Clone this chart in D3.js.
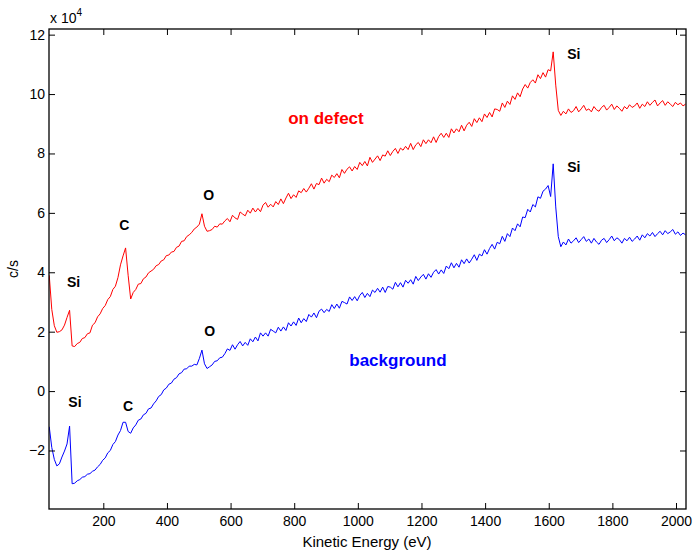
<!DOCTYPE html>
<html>
<head>
<meta charset="utf-8">
<script src="https://cdn.jsdelivr.net/npm/d3@7"></script>
<style>
  body { margin: 0; background: #fff; }
  svg { font-family: "Liberation Sans", Arial, sans-serif; }
</style>
</head>
<body>
<div id="chart"></div>
<script>

// spectrometer sampling grid (eV), 8 eV steps from 30 to 2030
var energy = d3.range(30, 2031, 8);

// counts, in units of 10^4 c/s
var onDefect = [
  3.9, 2.75, 2.2, 1.98, 2.0, 2.06, 2.22, 2.48, 2.72, 1.52,
  1.5, 1.6, 1.64, 1.77, 1.8, 1.93, 1.96, 2.22, 2.3, 2.5,
  2.6, 2.78, 2.88, 3.08, 3.18, 3.42, 3.53, 3.82, 4.25, 4.55,
  4.82, 3.9, 3.1, 3.32, 3.42, 3.6, 3.62, 3.78, 3.84, 3.98,
  4.04, 4.1, 4.22, 4.26, 4.38, 4.42, 4.56, 4.58, 4.68, 4.7,
  4.84, 4.88, 5.04, 5.06, 5.2, 5.26, 5.34, 5.46, 5.52, 5.62,
  5.97, 5.55, 5.38, 5.4, 5.44, 5.55, 5.52, 5.63, 5.62, 5.73,
  5.81, 5.70, 5.92, 5.83, 5.78, 6.03, 5.96, 5.90, 6.09, 5.99,
  6.16, 6.03, 6.15, 6.04, 6.26, 6.35, 6.19, 6.29, 6.20, 6.38,
  6.28, 6.47, 6.31, 6.50, 6.66, 6.48, 6.61, 6.52, 6.74, 6.68,
  6.82, 6.70, 6.83, 6.98, 6.80, 6.99, 6.95, 7.17, 7.00, 7.13,
  7.05, 7.27, 7.19, 7.32, 7.18, 7.46, 7.33, 7.47, 7.55, 7.41,
  7.56, 7.46, 7.70, 7.59, 7.73, 7.58, 7.87, 7.70, 7.81, 7.92,
  7.76, 7.95, 7.91, 8.09, 7.93, 8.07, 8.17, 8.00, 8.18, 8.11,
  8.24, 8.13, 8.34, 8.13, 8.29, 8.37, 8.23, 8.46, 8.33, 8.46,
  8.36, 8.56, 8.37, 8.57, 8.68, 8.54, 8.68, 8.54, 8.83, 8.69,
  8.83, 8.73, 8.95, 8.76, 8.95, 9.05, 8.91, 9.17, 9.04, 9.20,
  9.07, 9.33, 9.21, 9.38, 9.23, 9.50, 9.48, 9.42, 9.70, 9.55,
  9.76, 9.65, 9.94, 9.82, 10.04, 9.91, 10.17, 10.32, 10.20, 10.39,
  10.48, 10.37, 10.65, 10.52, 10.72, 10.57, 10.82, 10.78, 11.42, 10.3,
  9.45, 9.28, 9.42, 9.33, 9.5, 9.38, 9.44, 9.58, 9.4, 9.5,
  9.62, 9.45, 9.5, 9.4, 9.58, 9.47, 9.42, 9.55, 9.62, 9.46,
  9.55, 9.66, 9.48, 9.6, 9.52, 9.42, 9.58, 9.5, 9.64, 9.55,
  9.6, 9.7, 9.52, 9.66, 9.58, 9.74, 9.62, 9.72, 9.8, 9.6,
  9.7, 9.78, 9.62, 9.74, 9.66, 9.58, 9.72, 9.64, 9.7, 9.6, 9.66
];

var background = [
  -1.2, -1.9, -2.3, -2.52, -2.45, -2.22, -2.02, -1.78, -1.18, -3.12,
  -3.1, -3.02, -2.98, -2.9, -2.88, -2.8, -2.78, -2.7, -2.66, -2.55,
  -2.47, -2.33, -2.25, -2.08, -2.0, -1.8, -1.7, -1.48, -1.33, -1.05,
  -1.05, -1.36, -1.42, -1.24, -1.14, -0.98, -0.94, -0.8, -0.75, -0.6,
  -0.57, -0.43, -0.33, -0.18, -0.12, 0.04, 0.1, 0.23, 0.27, 0.4,
  0.45, 0.58, 0.62, 0.74, 0.75, 0.84, 0.84, 0.9, 0.88, 1.1,
  1.38, 0.92, 0.76, 0.82, 0.88, 1.0, 1.02, 1.12, 1.14, 1.26,
  1.42, 1.37, 1.56, 1.41, 1.56, 1.67, 1.52, 1.64, 1.54, 1.76,
  1.66, 1.82, 1.69, 1.96, 1.85, 1.96, 1.85, 2.08, 2.02, 1.96,
  2.15, 2.02, 2.16, 2.04, 2.30, 2.19, 2.33, 2.21, 2.46, 2.30,
  2.44, 2.34, 2.58, 2.49, 2.63, 2.47, 2.69, 2.76, 2.64, 2.75,
  2.68, 2.91, 2.78, 2.93, 2.79, 3.02, 2.98, 2.93, 3.17, 3.05,
  3.18, 3.04, 3.22, 3.32, 3.15, 3.29, 3.18, 3.40, 3.32, 3.46,
  3.33, 3.50, 3.32, 3.52, 3.50, 3.43, 3.66, 3.51, 3.65, 3.50,
  3.73, 3.63, 3.75, 3.60, 3.86, 3.72, 3.84, 3.93, 3.77, 3.95,
  3.83, 4.00, 4.09, 3.94, 4.08, 3.96, 4.21, 4.12, 4.32, 4.15,
  4.30, 4.17, 4.42, 4.29, 4.45, 4.31, 4.44, 4.59, 4.40, 4.61,
  4.55, 4.76, 4.61, 4.80, 4.94, 4.78, 5.01, 4.96, 5.21, 5.04,
  5.30, 5.20, 5.49, 5.40, 5.63, 5.53, 5.86, 5.84, 6.12, 6.03,
  6.28, 6.20, 6.54, 6.49, 6.73, 6.80, 6.92, 6.55, 7.65, 6.2,
  5.2, 4.86, 5.02, 4.92, 5.12, 4.98, 5.06, 5.16, 5.0, 5.1,
  5.2, 5.04, 5.12, 4.98, 5.14, 5.02, 4.94, 5.08, 5.14, 5.0,
  5.1, 5.22, 5.06, 5.16, 5.1, 4.98, 5.14, 5.06, 5.18, 5.04,
  5.12, 5.22, 5.08, 5.26, 5.16, 5.3, 5.22, 5.34, 5.2, 5.3,
  5.38, 5.26, 5.4, 5.3, 5.36, 5.44, 5.28, 5.36, 5.24, 5.32, 5.26
];

var xTicks = [200, 400, 600, 800, 1000, 1200, 1400, 1600, 1800, 2000];
var yTicks = [-2, 0, 2, 4, 6, 8, 10, 12];

// peak labels: [text, eV, value (10^4 c/s)]
var peakLabels = [
  ['Si', 86, 3.5], ['C', 250, 5.42], ['O', 514, 6.43], ['Si', 1658, 11.18],
  ['Si', 90, -0.54], ['C', 262, -0.67], ['O', 517, 1.85], ['Si', 1658, 7.38]
];
var seriesLabels = [
  ['on defect', 781, 8.99, 'red'],
  ['background', 973, 0.84, 'blue']
];

var width = 693, height = 550;
var plotLeft = 49, plotRight = 686, plotTop = 29, plotBottom = 509;

var svg = d3.select('#chart')
  .append('svg')
  .attr('width', width)
  .attr('height', height);

var x = d3.scaleLinear().domain([29.3, 2031.4]).range([plotLeft, plotRight]);
var y = d3.scaleLinear().domain([-3.97, 12.19]).range([plotBottom, plotTop]);

svg.append('clipPath').attr('id', 'plotArea')
  .append('rect')
  .attr('x', plotLeft).attr('y', plotTop)
  .attr('width', plotRight - plotLeft).attr('height', plotBottom - plotTop);

var line = d3.line()
  .x(function(d){ return x(d[0]); })
  .y(function(d){ return y(d[1]); });

var series = [
  {values: onDefect, color: '#ff0000'},
  {values: background, color: '#0000ff'}
];

svg.selectAll('path.spectrum')
  .data(series)
  .enter()
  .append('path')
  .classed('spectrum', true)
  .attr('clip-path', 'url(#plotArea)')
  .attr('fill', 'none')
  .attr('stroke', function(d){ return d.color; })
  .attr('stroke-width', 1)
  .attr('stroke-linejoin', 'round')
  .attr('d', function(d){
    return line(energy.map(function(e, i){ return [e, d.values[i]]; }));
  });

// axes, ticks pointing inward on all four sides
var fmt = d3.format('d');
var gx = svg.append('g')
  .attr('transform', 'translate(0,' + plotBottom + ')')
  .call(d3.axisBottom(x).tickValues(xTicks).tickFormat(fmt).tickSizeInner(-6).tickSizeOuter(0).tickPadding(7));
var gxTop = svg.append('g')
  .attr('transform', 'translate(0,' + plotTop + ')')
  .call(d3.axisTop(x).tickValues(xTicks).tickSizeInner(-6).tickSizeOuter(0).tickFormat(''));
var gy = svg.append('g')
  .attr('transform', 'translate(' + plotLeft + ',0)')
  .call(d3.axisLeft(y).tickValues(yTicks).tickFormat(fmt).tickSizeInner(-6).tickSizeOuter(0).tickPadding(4));
var gyRight = svg.append('g')
  .attr('transform', 'translate(' + plotRight + ',0)')
  .call(d3.axisRight(y).tickValues(yTicks).tickSizeInner(-6).tickSizeOuter(0).tickFormat(''));

[gx, gxTop, gy, gyRight].forEach(function(g){
  g.selectAll('.domain').remove();
  g.selectAll('.tick line').attr('stroke', '#000').attr('stroke-width', 1);
  g.selectAll('.tick text')
    .attr('fill', '#000')
    .attr('font-size', 14)
    .attr('font-family', '"Liberation Sans", Arial, sans-serif');
});

svg.append('rect')
  .attr('x', plotLeft).attr('y', plotTop)
  .attr('width', plotRight - plotLeft).attr('height', plotBottom - plotTop)
  .attr('fill', 'none')
  .attr('stroke', '#000')
  .attr('stroke-width', 1.3);

// exponent note
var expo = svg.append('text')
  .attr('x', 50).attr('y', 23)
  .attr('font-size', 14)
  .text('x 10');
expo.append('tspan')
  .attr('font-size', 10)
  .attr('dy', -7)
  .text('4');

svg.append('text')
  .attr('x', 367).attr('y', 547)
  .attr('text-anchor', 'middle')
  .attr('font-size', 15)
  .text('Kinetic Energy (eV)');

svg.append('text')
  .attr('transform', 'translate(18,269) rotate(-90)')
  .attr('text-anchor', 'middle')
  .attr('font-size', 14)
  .text('c/s');

svg.selectAll('text.peak')
  .data(peakLabels)
  .enter()
  .append('text')
  .classed('peak', true)
  .attr('x', function(d){ return x(d[1]); })
  .attr('y', function(d){ return y(d[2]); })
  .attr('font-size', 14)
  .attr('font-weight', 'bold')
  .attr('fill', '#000')
  .text(function(d){ return d[0]; });

svg.selectAll('text.series')
  .data(seriesLabels)
  .enter()
  .append('text')
  .classed('series', true)
  .attr('x', function(d){ return x(d[1]); })
  .attr('y', function(d){ return y(d[2]); })
  .attr('font-size', 17)
  .attr('font-weight', 'bold')
  .attr('fill', function(d){ return d[3]; })
  .text(function(d){ return d[0]; });

</script>
</body>
</html>
